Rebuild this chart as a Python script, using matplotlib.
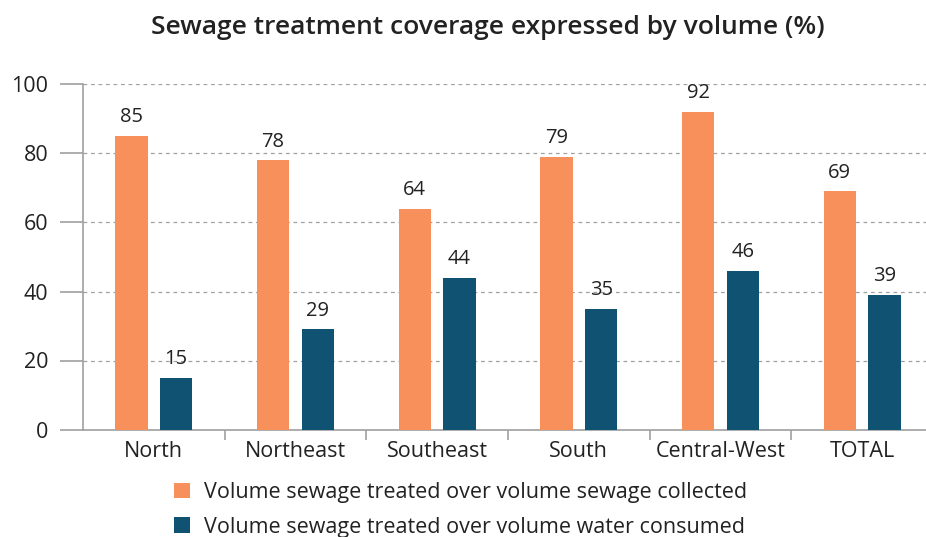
import matplotlib
matplotlib.use("Agg")
import matplotlib.pyplot as plt
import numpy as np
from matplotlib.patches import Patch

categories = ["North", "Northeast", "Southeast", "South", "Central-West", "TOTAL"]
collected = [85, 78, 64, 79, 92, 69]
consumed = [15, 29, 44, 35, 46, 39]
series_names = ["Volume sewage treated over volume sewage collected",
                "Volume sewage treated over volume water consumed"]
title = "Sewage treatment coverage expressed by volume (%)"
yticks = [0, 20, 40, 60, 80, 100]

ORANGE = "#F7905A"
BLUE = "#105272"
GRAY = "#A0A0A0"
TEXT = "#222222"

plt.rcParams['font.family'] = ['Open Sans', 'DejaVu Sans']

fig = plt.figure(figsize=(9.26, 5.37), dpi=100)
ax = fig.add_axes([83/926, 107.5/537, 850/926, 345/537])

x = np.arange(len(categories))
w = 0.227
off = 0.158
b1 = ax.bar(x - off, collected, w, color=ORANGE, zorder=3)
b2 = ax.bar(x + off, consumed, w, color=BLUE, zorder=3)

for rect, v in list(zip(b1, collected)) + list(zip(b2, consumed)):
    ax.annotate(str(v), (rect.get_x() + rect.get_width()/2, v),
                xytext=(0, 10), textcoords="offset points",
                ha="center", va="baseline", fontsize=14.5, color=TEXT)

ax.set_xlim(-0.5, len(categories) - 0.5)
ax.set_ylim(0, 100)
ax.set_yticks(yticks)
ax.set_yticklabels([str(t) for t in yticks])
ax.set_xticks(x)
ax.set_xticklabels(categories)
ax.set_xticks(np.arange(0.5, len(categories) - 0.5, 1), minor=True)

ax.tick_params(axis="y", length=16.5, width=1.2, color=GRAY, pad=8.5,
               labelsize=15.5, labelcolor=TEXT)
ax.tick_params(axis="x", which="major", length=0, pad=8.5, labelsize=15.5, labelcolor=TEXT)
ax.tick_params(axis="x", which="minor", length=7, width=1.2, color=GRAY)

for s in ["top", "right"]:
    ax.spines[s].set_visible(False)
for s in ["left", "bottom"]:
    ax.spines[s].set_color(GRAY)
    ax.spines[s].set_linewidth(1.2)

ax.yaxis.grid(True, linestyle=(0, (3, 3)), color=GRAY, linewidth=0.9, zorder=0)
ax.set_axisbelow(True)

fig.text(488/926, 1 - 34/537, title, ha="center", va="baseline",
         fontsize=19, fontweight="semibold", color=TEXT)

handles = [Patch(facecolor=ORANGE), Patch(facecolor=BLUE)]
fig.legend(handles, series_names, loc="upper left",
           bbox_to_anchor=(174/926, 1 - 482/537), frameon=False,
           fontsize=15.5, handlelength=0.75, handleheight=0.75,
           handletextpad=0.65, labelspacing=0.63, labelcolor=TEXT,
           borderaxespad=0, borderpad=0)

fig.savefig("out.png", dpi=100)
